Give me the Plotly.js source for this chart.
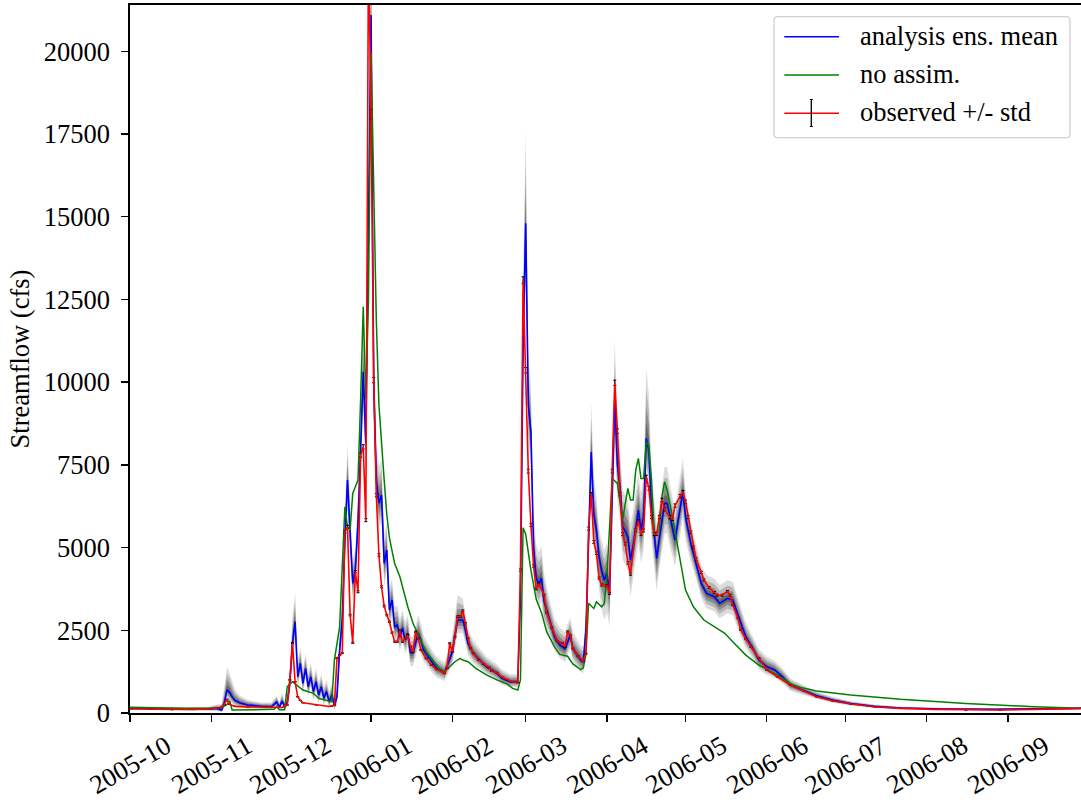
<!DOCTYPE html>
<html>
<head>
<meta charset="utf-8">
<script src="https://cdn.plot.ly/plotly-3.0.1.min.js"></script>
<style>
  html, body { margin: 0; padding: 0; background: #ffffff; overflow: hidden; }
  #chart { width: 1081px; height: 803px; }
</style>
</head>
<body>
<div id="chart"></div>
<script>
// ---- DATA (days counted from 2005-10-01) ----
const startDate = '2005-10-01';

// observed streamflow (cfs)
const obsDay = [0,8,16,24,31,34,36,37,38,40,45,52,58,60,61,62,63,64,65,66,71,76,77,78,79,80,81,82,83,84,85,86,87,88,89,90,91,92,93,94,95,96,97,98,99,100,101,102,103,104,105,106,107,108,109,110,111,113,115,117,120,121,122,123,124,125,126,127,128,129,130,131,133,135,137,138,140,142,144,146,148,149,150,151,152,153,154,155,156,158,159,161,163,165,166,167,168,169,171,173,174,175,176,177,178,179,180,182,183,184,185,186,187,188,189,190,191,193,194,195,196,197,198,199,200,201,202,203,204,206,207,208,210,211,212,213,214,215,216,218,219,221,223,224,226,228,229,230,232,233,235,237,240,243,247,252,257,262,268,275,284,294,307,319,332,345,363];
const obsFlow = [120,110,100,105,130,160,250,415,260,200,185,170,165,240,1000,2115,945,490,380,310,245,195,210,240,1660,1750,1810,5480,5630,2960,2125,4270,3665,7795,8045,5830,23000,18100,10060,6585,4775,3815,3230,2960,2760,2430,2155,2155,2490,2155,2255,2355,2005,1850,2455,2255,1905,1650,1450,1320,1200,1350,2105,1850,2305,2910,2910,3090,2710,2255,1955,1805,1600,1480,1380,1270,1220,1080,1000,945,915,4320,13080,10360,7310,5680,4445,3755,3905,3565,3040,2580,2175,2115,2000,2460,2350,1945,1715,1565,1795,5575,6615,5170,4830,4080,3870,3850,3615,7310,9980,8520,6615,5405,5115,4540,4200,5520,5805,5405,5520,7130,6790,5920,5405,5405,5920,6440,6155,5920,5865,6270,6555,6675,6385,5920,5460,5000,4650,4250,4020,3790,3640,3560,3560,3675,3560,3270,2870,2520,2235,2000,1660,1300,1095,845,675,490,370,270,190,140,110,90,90,110,140];

// analysis ensemble mean and ensemble spread above / below the mean (cfs)
const meanDay = [0,8,16,24,30,33,35,36,37,38,39,40,42,45,50,54,56,57,58,59,60,61,62,63,64,65,66,67,68,69,70,71,72,73,74,75,76,77,78,79,80,81,82,83,84,85,86,87,88,89,90,91,92,93,94,95,96,97,98,99,100,101,102,103,104,105,106,107,108,110,111,112,115,117,120,121,123,124,125,127,128,129,131,134,136,139,140,142,145,148,149,150,151,152,153,154,155,156,157,158,160,162,164,166,168,169,172,173,174,175,176,177,178,179,180,181,182,183,184,185,186,187,188,189,190,191,192,194,195,196,197,198,199,200,201,202,203,204,205,206,208,209,211,212,214,216,218,220,223,225,228,230,233,235,238,240,243,246,249,252,255,262,268,275,284,294,310,330,363];
const meanFlow = [150,135,125,115,120,140,90,300,700,620,480,380,300,240,205,190,330,170,360,200,300,900,2115,2760,1095,1500,895,1350,795,1095,645,945,545,795,445,645,340,545,240,490,1905,2810,5225,7040,5430,3920,4320,5730,7945,10310,8150,15000,21100,10000,7040,6345,6585,4520,4925,3110,3415,2605,2660,2305,2570,2205,2410,1820,1820,2410,2205,1905,1550,1350,1220,1400,1850,2305,2810,2810,2510,2105,1805,1550,1400,1250,1200,1050,945,945,3500,11000,14800,9300,8500,5000,4080,3905,4080,3385,2810,2290,2060,1945,2350,1945,1600,1550,2500,5000,7885,6000,5530,4720,4300,4020,4220,3615,6535,9455,7500,6835,5630,5500,5325,4620,5025,6130,5530,5930,8300,7945,6230,5430,4670,5275,5800,6335,6335,5930,5225,5730,6685,5930,5125,4520,3915,3615,3515,3315,3465,3415,2710,2305,1905,1600,1400,1300,1095,845,745,520,390,285,200,150,120,110,140];
const ensUp = [70,60,60,60,70,120,180,500,700,600,450,330,220,150,110,130,200,160,250,160,250,500,800,900,450,500,450,450,420,420,400,400,380,380,350,350,320,320,300,400,550,700,800,1100,900,700,700,900,1100,1400,1300,2200,2500,1800,1200,1100,1100,900,800,700,650,600,600,550,550,550,550,500,500,550,500,450,380,350,300,400,500,650,750,650,550,450,380,330,300,280,270,260,230,230,700,2000,2800,1600,1300,1100,1000,950,950,850,650,550,520,500,550,500,450,450,700,1100,1500,1200,1000,900,900,900,900,900,1300,1800,1400,1200,1100,1100,1100,1100,1100,1100,1100,1300,2100,1700,1200,1100,1000,1000,1000,1100,1100,1000,900,1000,1000,800,650,550,550,550,550,550,550,550,500,420,350,330,300,280,250,200,180,130,100,80,60,50,40,40,40];
const ensDn = [50,50,50,50,50,80,60,150,250,250,200,160,130,110,80,80,130,80,130,100,130,350,500,600,300,350,300,300,300,300,280,280,270,270,220,220,200,200,150,250,400,550,650,900,700,550,550,650,900,1100,1000,1800,2200,1300,900,800,800,700,650,550,500,450,450,420,420,420,420,400,400,420,400,350,300,280,250,280,400,400,400,400,400,350,300,250,230,220,210,200,170,170,500,1200,1800,1200,1000,800,700,700,700,700,450,400,400,400,400,400,350,350,500,800,1100,1000,1000,1000,1200,1200,1200,1000,1000,1400,1100,1000,1000,1000,1000,1100,1000,1000,1000,1000,1200,1100,1000,1000,1000,900,900,900,900,900,800,800,800,700,550,450,450,450,450,450,450,450,400,350,300,280,250,230,200,170,150,100,80,60,50,40,30,30,30];

// open-loop run without assimilation (cfs)
const openDay = [0,10,20,30,35,37,38,39,45,53,55,56,57,59,60,62,64,66,70,72,77,78,80,81,82,83,84,85,87,88,89,90,91,92,93,94,95,96,97,98,99,100,101,103,104,106,108,111,113,116,118,120,122,124,126,127,129,132,136,140,144,146,148,149,150,151,153,155,157,159,162,164,167,169,172,173,174,175,177,178,180,181,182,183,184,186,188,189,190,191,192,193,194,195,196,197,198,199,200,202,203,204,205,207,209,210,212,215,219,224,227,230,235,240,247,253,256,262,275,294,319,345,363];
const openFlow = [170,150,140,140,170,250,370,90,90,90,110,200,100,100,800,945,815,695,595,445,340,1600,2605,4620,6230,5630,5530,6635,7040,9455,12275,9500,12500,19970,15500,11870,9300,8000,7040,6000,5300,4900,4520,4120,3815,3210,2710,2205,1850,1550,1350,1250,1400,1550,1650,1600,1550,1350,1150,1000,875,745,695,1000,5600,5405,4310,3445,3040,2460,2000,1770,1715,1485,1310,1365,1770,3315,3160,3360,3210,3315,4120,5630,7090,6940,5830,6335,6790,6435,6435,7340,7695,7090,7090,8195,8095,7040,5430,5530,6535,6990,6735,5930,5025,4520,3715,3210,2810,2560,2410,2155,1750,1450,1150,845,775,665,545,415,290,190,140];

// axis ticks
const monthTicks = ['2005-10-01','2005-11-01','2005-12-01','2006-01-01','2006-02-01','2006-03-01','2006-04-01','2006-05-01','2006-06-01','2006-07-01','2006-08-01','2006-09-01'];
const monthLabels = ['2005-10','2005-11','2005-12','2006-01','2006-02','2006-03','2006-04','2006-05','2006-06','2006-07','2006-08','2006-09'];
const yTicks = [0,2500,5000,7500,10000,12500,15000,17500,20000];

const legendLabels = ['analysis ens. mean', 'no assim.', 'observed +/- std'];

// ---- BUILD ----
const t0 = Date.parse(startDate + 'T00:00:00Z');
const toDate = d => new Date(t0 + d * 86400000).toISOString().slice(0, 10);

const FONT = 'Liberation Serif, Times New Roman, serif';
const FS = 26.5;

const traces = [];
// ensemble spread drawn as nested translucent bands (darker toward the mean)
const bandLevels = [[1.0, 0.18], [0.7, 0.24], [0.45, 0.34], [0.22, 0.48]];
const mx = meanDay.map(toDate);
bandLevels.forEach(([k, a]) => {
  const up = meanFlow.map((m, i) => m + k * ensUp[i]);
  const dn = meanFlow.map((m, i) => Math.max(0, m - k * ensDn[i]));
  traces.push({
    x: mx.concat(mx.slice().reverse()),
    y: up.concat(dn.slice().reverse()),
    type: 'scatter', mode: 'lines', fill: 'toself',
    fillcolor: 'rgba(60,60,60,' + a + ')',
    line: { width: 0, color: 'rgba(0,0,0,0)' },
    hoverinfo: 'skip', showlegend: false
  });
});

traces.push({
  x: mx, y: meanFlow, type: 'scatter', mode: 'lines',
  line: { color: '#0000ff', width: 1.6 }, name: legendLabels[0], showlegend: false
});
traces.push({
  x: openDay.map(toDate), y: openFlow, type: 'scatter', mode: 'lines',
  line: { color: '#008000', width: 1.5 }, name: legendLabels[1], showlegend: false
});
traces.push({
  x: obsDay.map(toDate), y: obsFlow, type: 'scatter', mode: 'lines',
  line: { color: '#ff0000', width: 1.6 }, name: legendLabels[2], showlegend: false,
  error_y: { type: 'percent', value: 0.8, color: '#000000', thickness: 1, width: 1.5, visible: true }
});

// plot-area geometry helpers (paper coords)
const L = 130, R = 1081, T = 5, B = 713;
const px = x => (x - L) / (R - L);
const py = y => (B - y) / (B - T);

// custom legend
const lx0 = px(774), lx1 = px(1070), ly0 = py(137.7), ly1 = py(16.7);
const rx = 4 / (R - L), ry = 4 / (B - T);
const boxPath = `M ${lx0 + rx},${ly0} L ${lx1 - rx},${ly0} Q ${lx1},${ly0} ${lx1},${ly0 + ry} L ${lx1},${ly1 - ry} Q ${lx1},${ly1} ${lx1 - rx},${ly1} L ${lx0 + rx},${ly1} Q ${lx0},${ly1} ${lx0},${ly1 - ry} L ${lx0},${ly0 + ry} Q ${lx0},${ly0} ${lx0 + rx},${ly0} Z`;

const legendRows = [36.7, 75, 113.3];
const legendColors = ['#0000ff', '#008000', '#ff0000'];
const shapes = [
  { type: 'path', xref: 'paper', yref: 'paper', path: boxPath,
    fillcolor: 'rgba(255,255,255,0.85)', line: { color: '#d0d0d0', width: 1.3 }, layer: 'above' }
];
legendRows.forEach((yy, i) => {
  shapes.push({ type: 'line', xref: 'paper', yref: 'paper', x0: px(784.3), x1: px(839), y0: py(yy), y1: py(yy),
    line: { color: legendColors[i], width: 1.5 }, layer: 'above' });
});
// error-bar glyph on the observed legend sample
shapes.push({ type: 'line', xref: 'paper', yref: 'paper', x0: px(811.3), x1: px(811.3), y0: py(126.5), y1: py(99.5),
  line: { color: '#000000', width: 1.3 }, layer: 'above' });
shapes.push({ type: 'line', xref: 'paper', yref: 'paper', x0: px(809.8), x1: px(812.8), y0: py(126.5), y1: py(126.5),
  line: { color: '#000000', width: 1 }, layer: 'above' });
shapes.push({ type: 'line', xref: 'paper', yref: 'paper', x0: px(809.8), x1: px(812.8), y0: py(99.5), y1: py(99.5),
  line: { color: '#000000', width: 1 }, layer: 'above' });

const annotations = legendLabels.map((t, i) => ({
  xref: 'paper', yref: 'paper', x: px(858), y: py(legendRows[i] - 1), xanchor: 'left', yanchor: 'middle',
  text: t, showarrow: false, font: { family: FONT, size: FS, color: '#000000' }
}));
// rotated month labels centred on their ticks
monthTicks.forEach((d, i) => {
  annotations.push({
    xref: 'x', yref: 'paper', x: d, y: py(765), xanchor: 'center', yanchor: 'middle',
    text: monthLabels[i], textangle: -30, showarrow: false,
    font: { family: FONT, size: FS, color: '#000000' }
  });
});

const layout = {
  width: 1081, height: 803,
  margin: { l: L, r: 0, t: T, b: 803 - B },
  paper_bgcolor: '#ffffff', plot_bgcolor: '#ffffff',
  showlegend: false,
  font: { family: FONT, size: FS, color: '#000000' },
  xaxis: {
    type: 'date', range: ['2005-10-01', '2006-09-28 22:00'],
    tickvals: monthTicks, showticklabels: false,
    ticks: 'outside', ticklen: 7, tickwidth: 1.4, tickcolor: '#000000',
    showline: true, linecolor: '#000000', linewidth: 1.8, mirror: true,
    showgrid: false, zeroline: false
  },
  yaxis: {
    range: [0, 21400], tickvals: yTicks, ticktext: yTicks.map(String),
    ticks: 'outside', ticklen: 7, tickwidth: 1.4, tickcolor: '#000000',
    ticklabelstandoff: 6,
    showline: true, linecolor: '#000000', linewidth: 1.8,
    showgrid: false, zeroline: false,
    tickfont: { family: FONT, size: FS, color: '#000000' },
    title: { text: 'Streamflow (cfs)', font: { family: FONT, size: FS, color: '#000000' }, standoff: 6 }
  },
  shapes: shapes,
  annotations: annotations
};

Plotly.newPlot('chart', traces, layout, { staticPlot: true, displayModeBar: false });
</script>
</body>
</html>
